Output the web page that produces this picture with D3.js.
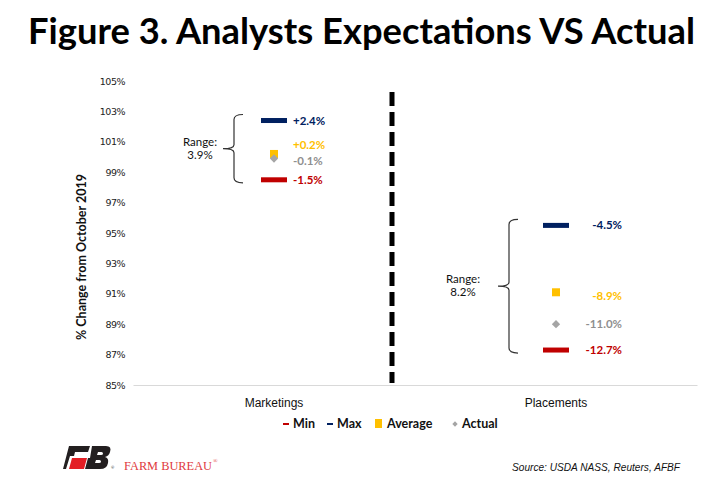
<!DOCTYPE html>
<html>
<head>
<meta charset="utf-8">
<script src="https://cdn.jsdelivr.net/npm/d3@7"></script>
<style>
  body { margin: 0; background: #fff; }
  svg { display: block; font-family: 'Lato', 'DejaVu Sans', sans-serif; }
</style>
</head>
<body>
<svg id="chart" width="722" height="496"></svg>
<script>
// data, % change from October 2019
const categories = ['Marketings', 'Placements'];
const minVals = [-1.5, -12.7];
const maxVals = [2.4, -4.5];
const avgVals = [0.2, -8.9];
const actualVals = [-0.1, -11.0];
const yTicks = [85, 87, 89, 91, 93, 95, 97, 99, 101, 103, 105];

const colors = { min: '#C00000', max: '#002060', avg: '#FFC000', actual: '#A5A5A5' };

// per-category label placement (layout, not data)
const layout = [
  { labelAnchor: 'start', labelDx: 19, avgDy: -9, actDy: 2, bracketDx: -40, rangeDx: -74 },
  { labelAnchor: 'end', labelDx: 66, avgDy: 4, actDy: 0, bracketDx: -47, rangeDx: -93 }
];

const svg = d3.select('#chart');

const x = d3.scaleBand().domain(categories).range([133, 697]);
const y = d3.scaleLinear().domain([85, 105]).range([385, 81]);
const pct = v => 100 + v;
const fmt = v => (v > 0 ? '+' : '') + v.toFixed(1) + '%';

// title
svg.append('text')
  .attr('x', 28).attr('y', 44)
  .attr('textLength', 667).attr('lengthAdjust', 'spacingAndGlyphs')
  .attr('font-size', 36).attr('font-weight', 'bold').attr('fill', '#000')
  .text('Figure 3. Analysts Expectations VS Actual');

// y axis
const yAxis = svg.append('g')
  .attr('transform', 'translate(133,0)')
  .call(d3.axisLeft(y).tickValues(yTicks).tickSize(0).tickPadding(8).tickFormat(d => d + '%'));
yAxis.select('.domain').remove();
yAxis.selectAll('text').attr('font-size', 9.5).attr('fill', '#222').attr('font-family', "'DejaVu Sans', sans-serif").attr('letter-spacing', -0.5);

svg.append('text')
  .attr('transform', 'translate(86,257) rotate(-90)')
  .attr('text-anchor', 'middle')
  .attr('font-size', 12.5).attr('font-weight', 'bold').attr('fill', '#111')
  .text('% Change from October 2019');

// x axis
const xAxis = svg.append('g')
  .attr('transform', `translate(0,${y(85)})`)
  .call(d3.axisBottom(x).tickSize(0).tickPadding(13));
xAxis.select('.domain').attr('stroke', '#d9d9d9');
xAxis.selectAll('text').attr('font-size', 12).attr('fill', '#111');

// divider
svg.append('line')
  .attr('x1', 392).attr('x2', 392)
  .attr('y1', 92).attr('y2', 383)
  .attr('stroke', '#000').attr('stroke-width', 5)
  .attr('stroke-dasharray', '14,6');

const groups = svg.selectAll('.cat')
  .data(categories)
  .enter().append('g')
  .attr('class', 'cat');

const barW = 26;
const barH = 5;

groups.each(function (c, i) {
  const g = d3.select(this);
  const cx = x(c) + x.bandwidth() / 2;
  const L = layout[i];

  // min / max bars
  [[maxVals[i], colors.max], [minVals[i], colors.min]].forEach(([v, col]) => {
    g.append('rect')
      .attr('x', cx - barW / 2).attr('y', y(pct(v)) - barH / 2)
      .attr('width', barW).attr('height', barH)
      .attr('fill', col);
  });

  // average square
  g.append('rect')
    .attr('x', cx - 4).attr('y', y(pct(avgVals[i])) - 4)
    .attr('width', 8).attr('height', 8)
    .attr('fill', colors.avg);

  // actual diamond
  g.append('path')
    .attr('d', d3.symbol(d3.symbolDiamond2, 44)())
    .attr('transform', `translate(${cx},${y(pct(actualVals[i]))})`)
    .attr('fill', colors.actual);

  // value labels
  const labels = [
    { v: maxVals[i], col: colors.max, dy: 0 },
    { v: avgVals[i], col: colors.avg, dy: L.avgDy },
    { v: actualVals[i], col: '#8f8f8f', dy: L.actDy },
    { v: minVals[i], col: colors.min, dy: 0 }
  ];
  labels.forEach(d => {
    g.append('text')
      .attr('x', cx + L.labelDx)
      .attr('y', y(pct(d.v)) + d.dy)
      .attr('dy', '0.35em')
      .attr('text-anchor', L.labelAnchor)
      .attr('font-size', 11.5).attr('font-weight', 'bold')
      .attr('fill', d.col)
      .text(fmt(d.v));
  });

  // range bracket
  const bx = cx + L.bracketDx;
  const top = y(pct(maxVals[i])) - 6;
  const bot = y(pct(minVals[i])) + 3;
  const mid = (top + bot) / 2;
  const p = d3.path();
  p.moveTo(bx + 9, top);
  p.quadraticCurveTo(bx, top, bx, top + 5);
  p.lineTo(bx, mid - 4);
  p.quadraticCurveTo(bx, mid, bx - 11, mid);
  p.quadraticCurveTo(bx, mid, bx, mid + 4);
  p.lineTo(bx, bot - 5);
  p.quadraticCurveTo(bx, bot, bx + 9, bot);
  g.append('path')
    .attr('d', p.toString())
    .attr('fill', 'none').attr('stroke', '#333').attr('stroke-width', 1.2);

  const range = maxVals[i] - minVals[i];
  g.append('text')
    .attr('x', cx + L.rangeDx).attr('y', mid - 3)
    .attr('text-anchor', 'middle')
    .attr('font-size', 11.5).attr('fill', '#111')
    .text('Range:');
  g.append('text')
    .attr('x', cx + L.rangeDx).attr('y', mid + 10)
    .attr('text-anchor', 'middle')
    .attr('font-size', 11.5).attr('fill', '#111')
    .text(range.toFixed(1) + '%');
});

// legend
const legend = svg.append('g').attr('transform', 'translate(0,424)');
const legItems = [
  { name: 'Min', type: 'dash', col: colors.min, x: 283 },
  { name: 'Max', type: 'dash', col: colors.max, x: 327 },
  { name: 'Average', type: 'square', col: colors.avg, x: 375 },
  { name: 'Actual', type: 'diamond', col: colors.actual, x: 452 }
];
legItems.forEach(d => {
  if (d.type === 'dash') {
    legend.append('rect').attr('x', d.x).attr('y', -1).attr('width', 6).attr('height', 2).attr('fill', d.col);
  } else if (d.type === 'square') {
    legend.append('rect').attr('x', d.x).attr('y', -5).attr('width', 7).attr('height', 9).attr('fill', d.col);
  } else {
    legend.append('path').attr('d', d3.symbol(d3.symbolDiamond2, 18)())
      .attr('transform', `translate(${d.x + 3},0)`).attr('fill', d.col);
  }
  legend.append('text')
    .attr('x', d.x + (d.type === 'square' ? 12 : 10)).attr('dy', '0.35em')
    .attr('font-size', 12.5).attr('font-weight', 'bold').attr('fill', '#111')
    .text(d.name);
});

// Farm Bureau logo
const logo = svg.append('g').attr('transform', 'translate(63,446)');
logo.append('path')
  .attr('d', 'M6,0 L27,0 L25,6 L12,6 L11,10 L7,10 L3,23 L0,23 Z')
  .attr('fill', '#231f20');
logo.append('path')
  .attr('d', 'M9,12 L24,12 L21,23 L6,23 Z')
  .attr('fill', '#e31e24');
logo.append('path')
  .attr('d', 'M29,0 L43,0 Q49,0 47,6 Q46,10 42,11 Q46,12 45,17 Q44,23 37,23 L22,23 L25,12 L27,12 Z M35,6 L34,9 L38,9 Q40,9 40,7.5 Q40,6 38.5,6 Z M33,14 L32,17 L36,17 Q38,17 38,15.5 Q38,14 36.5,14 Z')
  .attr('fill', '#231f20').attr('fill-rule', 'evenodd');
logo.append('text').attr('x', 48).attr('y', 23).attr('font-size', 4).attr('fill', '#231f20').text('®');
svg.append('text')
  .attr('x', 124).attr('y', 470)
  .attr('font-family', "'Liberation Serif', serif").attr('font-size', 12.5)
  .attr('fill', '#e03a3e')
  .attr('textLength', 88).attr('lengthAdjust', 'spacingAndGlyphs')
  .text('FARM BUREAU');
svg.append('text')
  .attr('x', 213).attr('y', 463)
  .attr('font-family', "'Liberation Serif', serif").attr('font-size', 6)
  .attr('fill', '#e03a3e').text('®');

// source
svg.append('text')
  .attr('x', 680).attr('y', 471)
  .attr('text-anchor', 'end')
  .attr('font-family', "'Liberation Sans', sans-serif")
  .attr('font-size', 11).attr('font-style', 'italic').attr('fill', '#111')
  .attr('textLength', 168).attr('lengthAdjust', 'spacingAndGlyphs')
  .text('Source:  USDA NASS, Reuters, AFBF');
</script>
</body>
</html>
